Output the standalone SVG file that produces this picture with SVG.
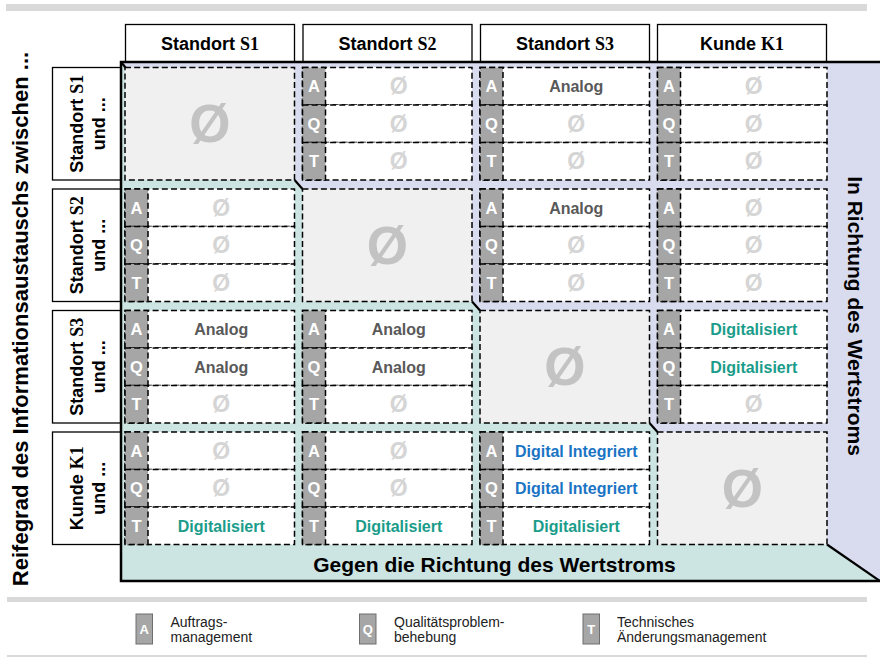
<svg xmlns="http://www.w3.org/2000/svg" xmlns:xlink="http://www.w3.org/1999/xlink" width="880" height="657" viewBox="0 0 880 657">
  <style>
    .hdr { font-family: "Liberation Sans", Arial, sans-serif; font-weight: bold; font-size: 18px; fill: #000; text-anchor: middle; }
    .var { font-family: "Liberation Serif", "Times New Roman", serif; font-weight: bold; }
    .box { fill: #fff; stroke: #000; stroke-width: 1.3; }
    .row { fill: #fff; stroke: #000; stroke-width: 1.5; stroke-dasharray: 6 3.2; }
    .tag { fill: #a6a6a6; stroke: #000; stroke-width: 1.5; stroke-dasharray: 6 3.2; }
    .diag { fill: #f0f0f0; stroke: #000; stroke-width: 1.5; stroke-dasharray: 6 3.2; }
    .tagt { font-family: "Liberation Sans", Arial, sans-serif; font-weight: bold; font-size: 16.5px; fill: #fff; text-anchor: middle; }
    .val { font-family: "Liberation Sans", Arial, sans-serif; font-weight: bold; font-size: 16px; text-anchor: middle; }
    .analog { fill: #595959; }
    .digi { fill: #1a9c8a; }
    .integ { fill: #1a74c4; }
    .none { font-family: "Liberation Sans", Arial, sans-serif; font-weight: bold; font-size: 23px; fill: #d5d5d5; text-anchor: middle; }
    .bignone { font-family: "Liberation Sans", Arial, sans-serif; font-weight: bold; font-size: 53px; fill: #c3c3c3; text-anchor: middle; }
    .band { font-family: "Liberation Sans", Arial, sans-serif; font-weight: bold; font-size: 21px; fill: #000; text-anchor: middle; }
    .side { font-family: "Liberation Sans", Arial, sans-serif; font-weight: bold; font-size: 22px; fill: #000; text-anchor: middle; }
    .edge { fill: none; stroke: #000; stroke-width: 2.5; }
    .cut { stroke: #000; stroke-width: 2.2; }
    .rule { fill: #d9d9d9; }
    .leg { font-family: "Liberation Sans", Arial, sans-serif; font-size: 14px; fill: #222; }
    .legbox { fill: #a6a6a6; stroke: #6e6e6e; stroke-width: 1; }
    .legt { font-family: "Liberation Sans", Arial, sans-serif; font-weight: bold; font-size: 13px; fill: #fff; text-anchor: middle; }
  </style>
  <defs>
    <!-- one matrix cell: three rows A / Q / T with a grey tag column -->
    <g id="aqt">
      <rect class="row" x="0" y="0" width="169.5" height="37.5"/>
      <rect class="row" x="0" y="37.5" width="169.5" height="37.5"/>
      <rect class="row" x="0" y="75" width="169.5" height="37.5"/>
      <rect class="tag" x="0" y="0" width="23" height="37.5"/>
      <rect class="tag" x="0" y="37.5" width="23" height="37.5"/>
      <rect class="tag" x="0" y="75" width="23" height="37.5"/>
      <text class="tagt" x="11.5" y="24.5">A</text>
      <text class="tagt" x="11.5" y="62">Q</text>
      <text class="tagt" x="11.5" y="99.5">T</text>
    </g>
  </defs>

  <rect width="880" height="657" fill="#fff"/>

  <!-- horizontal rules -->
  <rect class="rule" x="6" y="4" width="861" height="7"/>
  <rect class="rule" x="7" y="597" width="860" height="5"/>
  <rect class="rule" x="7" y="655" width="860" height="2"/>

  <!-- background bands: downstream (upper right) and upstream (lower left) -->
  <g id="bands">
    <rect x="121" y="62" width="759" height="519" fill="#d9dcee"/>
    <polygon points="121,62 125.5,67.5 294.6,180 302.5,189 472,301.5 480,310.5 649.5,423 657.5,432 827,544.5 880,581 121,581" fill="#cce4e2"/>
  </g>

  <!-- column headers -->
  <g id="col-s1"><rect class="box" x="125.5" y="24.5" width="169" height="37.5"/><text class="hdr" x="210" y="50">Standort <tspan class="var">S1</tspan></text></g>
  <g id="col-s2"><rect class="box" x="303" y="24.5" width="169" height="37.5"/><text class="hdr" x="387.5" y="50">Standort <tspan class="var">S2</tspan></text></g>
  <g id="col-s3"><rect class="box" x="480.5" y="24.5" width="169" height="37.5"/><text class="hdr" x="565" y="50">Standort <tspan class="var">S3</tspan></text></g>
  <g id="col-k1"><rect class="box" x="657.5" y="24.5" width="169" height="37.5"/><text class="hdr" x="742" y="50">Kunde <tspan class="var">K1</tspan></text></g>

  <!-- row headers -->
  <g id="row-s1"><rect class="box" x="52.5" y="67.5" width="68.5" height="112.5"/>
    <text class="hdr" transform="translate(83,123.75) rotate(-90)">Standort <tspan class="var">S1</tspan></text>
    <text class="hdr" transform="translate(105,123.75) rotate(-90)">und ...</text></g>
  <g id="row-s2"><rect class="box" x="52.5" y="189" width="68.5" height="112.5"/>
    <text class="hdr" transform="translate(83,245.25) rotate(-90)">Standort <tspan class="var">S2</tspan></text>
    <text class="hdr" transform="translate(105,245.25) rotate(-90)">und ...</text></g>
  <g id="row-s3"><rect class="box" x="52.5" y="310.5" width="68.5" height="112.5"/>
    <text class="hdr" transform="translate(83,366.75) rotate(-90)">Standort <tspan class="var">S3</tspan></text>
    <text class="hdr" transform="translate(105,366.75) rotate(-90)">und ...</text></g>
  <g id="row-k1"><rect class="box" x="52.5" y="432" width="68.5" height="112.5"/>
    <text class="hdr" transform="translate(83,488.25) rotate(-90)">Kunde <tspan class="var">K1</tspan></text>
    <text class="hdr" transform="translate(105,488.25) rotate(-90)">und ...</text></g>

  <!-- diagonal cells (same site) -->
  <g id="d-s1"><rect class="diag" x="125" y="67.5" width="169.5" height="112.5"/><text class="bignone" x="209.75" y="142">Ø</text></g>
  <g id="d-s2"><rect class="diag" x="302.5" y="189" width="169.5" height="112.5"/><text class="bignone" x="387.25" y="263.5">Ø</text></g>
  <g id="d-s3"><rect class="diag" x="480" y="310.5" width="169.5" height="112.5"/><text class="bignone" x="564.75" y="385">Ø</text></g>
  <g id="d-k1"><rect class="diag" x="657.5" y="432" width="169.5" height="112.5"/><text class="bignone" x="742.25" y="506.5">Ø</text></g>

  <!-- row S1 -->
  <g id="c-s1-s2"><use href="#aqt" x="302.5" y="67.5"/>
    <text class="none" x="398.75" y="94">Ø</text><text class="none" x="398.75" y="131.5">Ø</text><text class="none" x="398.75" y="169">Ø</text></g>
  <g id="c-s1-s3"><use href="#aqt" x="480" y="67.5"/>
    <text class="val analog" x="576.25" y="92">Analog</text><text class="none" x="576.25" y="131.5">Ø</text><text class="none" x="576.25" y="169">Ø</text></g>
  <g id="c-s1-k1"><use href="#aqt" x="657.5" y="67.5"/>
    <text class="none" x="753.75" y="94">Ø</text><text class="none" x="753.75" y="131.5">Ø</text><text class="none" x="753.75" y="169">Ø</text></g>

  <!-- row S2 -->
  <g id="c-s2-s1"><use href="#aqt" x="125" y="189"/>
    <text class="none" x="221.25" y="215.5">Ø</text><text class="none" x="221.25" y="253">Ø</text><text class="none" x="221.25" y="290.5">Ø</text></g>
  <g id="c-s2-s3"><use href="#aqt" x="480" y="189"/>
    <text class="val analog" x="576.25" y="213.5">Analog</text><text class="none" x="576.25" y="253">Ø</text><text class="none" x="576.25" y="290.5">Ø</text></g>
  <g id="c-s2-k1"><use href="#aqt" x="657.5" y="189"/>
    <text class="none" x="753.75" y="215.5">Ø</text><text class="none" x="753.75" y="253">Ø</text><text class="none" x="753.75" y="290.5">Ø</text></g>

  <!-- row S3 -->
  <g id="c-s3-s1"><use href="#aqt" x="125" y="310.5"/>
    <text class="val analog" x="221.25" y="335">Analog</text><text class="val analog" x="221.25" y="372.5">Analog</text><text class="none" x="221.25" y="412">Ø</text></g>
  <g id="c-s3-s2"><use href="#aqt" x="302.5" y="310.5"/>
    <text class="val analog" x="398.75" y="335">Analog</text><text class="val analog" x="398.75" y="372.5">Analog</text><text class="none" x="398.75" y="412">Ø</text></g>
  <g id="c-s3-k1"><use href="#aqt" x="657.5" y="310.5"/>
    <text class="val digi" x="753.75" y="335">Digitalisiert</text><text class="val digi" x="753.75" y="372.5">Digitalisiert</text><text class="none" x="753.75" y="412">Ø</text></g>

  <!-- row K1 -->
  <g id="c-k1-s1"><use href="#aqt" x="125" y="432"/>
    <text class="none" x="221.25" y="458.5">Ø</text><text class="none" x="221.25" y="496">Ø</text><text class="val digi" x="221.25" y="531.5">Digitalisiert</text></g>
  <g id="c-k1-s2"><use href="#aqt" x="302.5" y="432"/>
    <text class="none" x="398.75" y="458.5">Ø</text><text class="none" x="398.75" y="496">Ø</text><text class="val digi" x="398.75" y="531.5">Digitalisiert</text></g>
  <g id="c-k1-s3"><use href="#aqt" x="480" y="432"/>
    <text class="val integ" x="576.25" y="456.5">Digital Integriert</text><text class="val integ" x="576.25" y="494">Digital Integriert</text><text class="val digi" x="576.25" y="531.5">Digitalisiert</text></g>

  <!-- frame and staircase separators -->
  <g id="connectors">
    <path class="edge" d="M880,62 H121 V581 H880"/>
    <line class="cut" x1="121" y1="62" x2="125.5" y2="67.5"/>
    <line class="cut" x1="294.6" y1="180" x2="302.5" y2="189"/>
    <line class="cut" x1="472" y1="301.5" x2="480" y2="310.5"/>
    <line class="cut" x1="649.5" y1="423" x2="657.5" y2="432"/>
    <line class="cut" x1="827" y1="544.5" x2="880" y2="581"/>
  </g>

  <!-- band labels -->
  <text class="band" transform="translate(848,316) rotate(90)">In Richtung des Wertstroms</text>
  <text class="band" x="494.5" y="572">Gegen die Richtung des Wertstroms</text>
  <text class="side" transform="translate(28,319) rotate(-90)">Reifegrad des Informationsaustauschs zwischen ...</text>

  <!-- legend -->
  <g id="legend">
    <rect class="legbox" x="136" y="614" width="16.5" height="30"/><text class="legt" x="144.25" y="633.5">A</text>
    <text class="leg" x="170.5" y="626.5">Auftrags-</text><text class="leg" x="170.5" y="642">management</text>
    <rect class="legbox" x="359.5" y="614" width="16.5" height="30"/><text class="legt" x="367.75" y="633.5">Q</text>
    <text class="leg" x="394" y="626.5">Qualitätsproblem-</text><text class="leg" x="394" y="642">behebung</text>
    <rect class="legbox" x="583" y="614" width="16.5" height="30"/><text class="legt" x="591.25" y="633.5">T</text>
    <text class="leg" x="617" y="626.5">Technisches</text><text class="leg" x="617" y="642">Änderungsmanagement</text>
  </g>
</svg>
